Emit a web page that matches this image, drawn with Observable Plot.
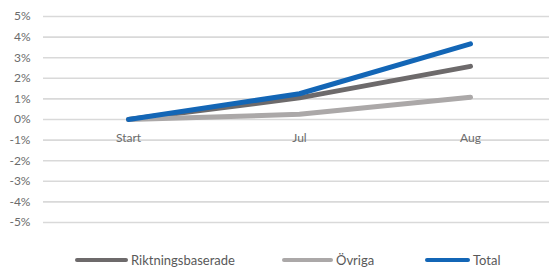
<!DOCTYPE html>
<html><head><meta charset="utf-8">
<script src="https://cdn.jsdelivr.net/npm/d3@7"></script>
<script src="https://cdn.jsdelivr.net/npm/@observablehq/plot@0.6"></script>
<style>
body{margin:0;background:#fff;font-family:Lato,"Open Sans",sans-serif;}
#chart{width:549px;height:267px;position:relative;}
.legend{position:absolute;top:252px;left:0;width:549px;height:18px;font-size:13px;color:#595959;}
.item{position:absolute;display:flex;align-items:center;}
.sw{height:4px;border-radius:2px;margin-right:3px;}
</style></head>
<body><div id="chart"></div>
<script>
const categories = ["Start", "Jul", "Aug"];
const seriesNames = ["Riktningsbaserade", "Övriga", "Total"];
const riktningsbaserade = [0, 1.05, 2.58];
const ovriga = [0, 0.25, 1.08];
const total = [0, 1.25, 3.67];
const yTicks = [-5, -4, -3, -2, -1, 0, 1, 2, 3, 4, 5];
const colors = ["#6d6a6b", "#aba8a8", "#1366b6"];

const seriesValues = [riktningsbaserade, ovriga, total];
const data = seriesNames.flatMap((s, i) => categories.map((c, j) => ({series: s, cat: c, value: seriesValues[i][j]})));

const plot = Plot.plot({
  width: 549, height: 245,
  marginTop: 16, marginBottom: 23, marginLeft: 43, marginRight: 0,
  style: {fontFamily: "Lato, 'Open Sans', sans-serif", fontSize: "12px", color: "#6b6b6b", background: "#fff"},
  x: {type: "point", domain: categories, range: [128, 470], padding: 0, axis: null},
  y: {domain: [-5, 5], ticks: yTicks, tickFormat: d => d + "%", label: null},
  color: {domain: seriesNames, range: colors},
  marks: [
    Plot.ruleY(yTicks, {stroke: "#d9d9d9", strokeWidth: 1.6}),
    Plot.axisY(yTicks, {tickSize: 0, tickPadding: 13, tickFormat: d => d + "%", fill: "#6b6b6b", fontSize: 12, label: null}),
    Plot.text(categories, {x: d => d, y: 0, dy: 19, fill: "#6b6b6b", fontSize: 12}),
    Plot.line(data, {x: "cat", y: "value", z: "series", stroke: "series", strokeWidth: 5, strokeLinecap: "round", strokeLinejoin: "round"})
  ]
});
const chart = document.getElementById("chart");
chart.appendChild(plot);

const legend = document.createElement("div");
legend.className = "legend";
const lefts = [75, 282, 425];
const swWidths = [53, 51, 45];
seriesNames.forEach((s, i) => {
  const it = document.createElement("div");
  it.className = "item";
  it.style.left = lefts[i] + "px";
  const sw = document.createElement("span");
  sw.className = "sw";
  sw.style.width = swWidths[i] + "px";
  sw.style.background = colors[i];
  const t = document.createElement("span");
  t.textContent = s;
  it.appendChild(sw); it.appendChild(t);
  legend.appendChild(it);
});
chart.appendChild(legend);
</script></body></html>
